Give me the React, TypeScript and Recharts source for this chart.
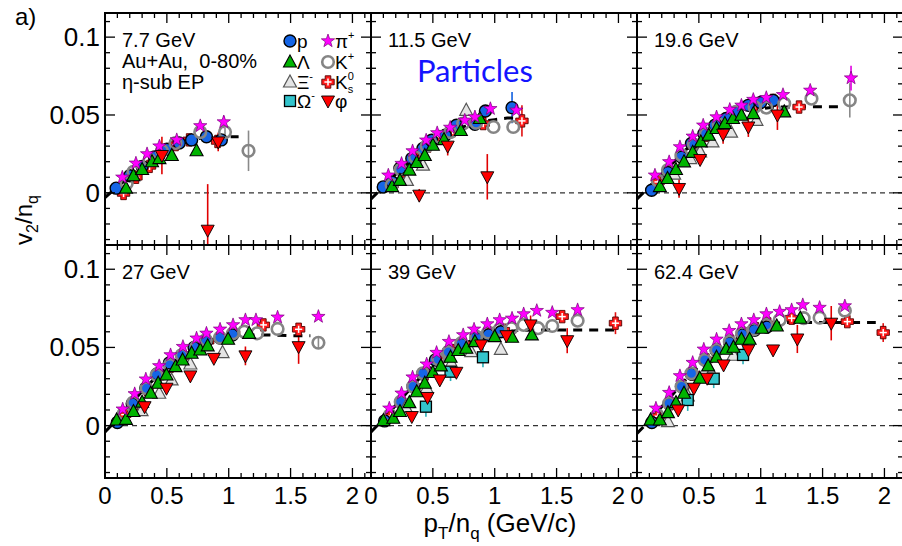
import React from 'react';
import {
  ScatterChart,
  Scatter,
  XAxis,
  YAxis,
  ErrorBar,
  ReferenceLine,
  ReferenceArea,
} from 'recharts';

// [x, y, error] - error can be [down, up] where the bar is cut by the frame
type Pt = [number, number, (number | [number, number])?];

const FONT = '"Liberation Sans", Arial, Helvetica, sans-serif';

// axis ticks
const X_MAJOR = [0, 0.5, 1, 1.5, 2];
const Y_MAJOR = [0, 0.05, 0.1];
const X_TICKS = Array.from({ length: 22 }, (_, i) => i / 10);
const Y_TICKS = Array.from({ length: 15 }, (_, i) => (i - 3) / 100);
const X_DOMAIN: [number, number] = [0, 2.15];
const Y_DOMAIN: [number, number] = [-0.0335, 0.1155];

const PANEL_LABELS = ['7.7 GeV', '11.5 GeV', '19.6 GeV', '27 GeV', '39 GeV', '62.4 GeV'];

// ---- 7.7 GeV ----
const p_7: Pt[] = [[0.09, 0.003], [0.2, 0.011], [0.3, 0.017], [0.4, 0.023], [0.5, 0.028], [0.6, 0.032], [0.7, 0.034], [0.82, 0.036], [0.94, 0.034]];
const lam_7: Pt[] = [[0.17, 0.003], [0.23, 0.011], [0.3, 0.015], [0.38, 0.02], [0.44, 0.022], [0.54, 0.024], [0.74, 0.027]];
const xi_7: Pt[] = [];
const om_7: Pt[] = [];
const pi_7: Pt[] = [[0.14, 0.01], [0.25, 0.019], [0.34, 0.025], [0.44, 0.03], [0.58, 0.034], [0.77, 0.043], [0.96, 0.0455, 0.004]];
const kp_7: Pt[] = [[0.175, 0.006], [0.23, 0.0135], [0.36, 0.021], [0.46, 0.027], [0.57, 0.032], [0.77, 0.039], [0.97, 0.039, 0.003], [1.16, 0.027, 0.013]];
const ks_7: Pt[] = [[0.15, -0.0004], [0.25, 0.01], [0.36, 0.017], [0.46, 0.026], [0.57, 0.031], [0.68, 0.034], [0.91, 0.033, 0.003]];
const phi_7: Pt[] = [[0.46, 0.024, 0.012], [0.83, -0.024, [0.0095, 0.0296]], [0.915, 0.0327, 0.006]];
const fit_7: Pt[] = [[0, -0.003], [0.1, 0.004], [0.2, 0.0105], [0.3, 0.0165], [0.4, 0.022], [0.5, 0.027], [0.6, 0.031], [0.7, 0.034], [0.8, 0.0355], [0.9, 0.036], [1.0, 0.036], [1.08, 0.036]];

// ---- 11.5 GeV ----
const p_11: Pt[] = [[0.099, 0.0038], [0.17, 0.007], [0.234, 0.0158], [0.33, 0.022], [0.42, 0.0285], [0.49, 0.0338], [0.6, 0.037], [0.69, 0.0434], [0.84, 0.044], [0.925, 0.0526], [1.14, 0.0547, 0.01]];
const lam_11: Pt[] = [[0.17, 0.004], [0.234, 0.008], [0.31, 0.0146], [0.37, 0.0195], [0.435, 0.024], [0.5, 0.0306], [0.59, 0.0342], [0.726, 0.04], [0.88, 0.0477]];
const xi_11: Pt[] = [[0.29, 0.008], [0.42, 0.0178], [0.77, 0.053, 0.004]];
const om_11: Pt[] = [];
const pi_11: Pt[] = [[0.14, 0.0113], [0.247, 0.0188], [0.336, 0.0269], [0.446, 0.0338], [0.535, 0.0385], [0.64, 0.042], [0.758, 0.0466], [0.84, 0.0487], [0.965, 0.054], [1.175, 0.053]];
const kp_11: Pt[] = [[0.167, 0.005], [0.24, 0.015], [0.355, 0.023], [0.45, 0.03], [0.556, 0.036], [0.64, 0.039], [0.745, 0.0445], [0.85, 0.045], [0.99, 0.0423], [1.15, 0.0423]];
const ks_11: Pt[] = [[0.17, 0.005], [0.25, 0.014], [0.36, 0.022], [0.46, 0.03], [0.56, 0.036], [0.66, 0.04], [0.907, 0.0445], [1.22, 0.0462, 0.01]];
const phi_11: Pt[] = [[0.39, -0.0015, 0.004], [0.62, 0.03, 0.006], [0.94, 0.0103, 0.0146]];
const fit_11: Pt[] = [[0, -0.004], [0.1, 0.004], [0.2, 0.012], [0.3, 0.019], [0.4, 0.026], [0.5, 0.032], [0.6, 0.037], [0.7, 0.041], [0.8, 0.044], [0.9, 0.046], [1.0, 0.047], [1.1, 0.048], [1.15, 0.048]];

// ---- 19.6 GeV ----
const p_19: Pt[] = [[0.118, 0.0017], [0.25, 0.013], [0.36, 0.023], [0.44, 0.0317], [0.54, 0.038], [0.63, 0.0434], [0.72, 0.0477], [0.81, 0.052], [0.9, 0.0562], [1.0, 0.058], [1.1, 0.0594]];
const lam_19: Pt[] = [[0.185, 0.004], [0.247, 0.0092], [0.315, 0.015], [0.38, 0.0199], [0.45, 0.026], [0.516, 0.0327], [0.58, 0.037], [0.643, 0.0413], [0.71, 0.0445], [0.776, 0.0477], [0.844, 0.0498], [0.94, 0.0509], [1.19, 0.052]];
const xi_19: Pt[] = [[0.3, 0.012], [0.43, 0.022], [0.51, 0.0263], [0.61, 0.0327], [0.76, 0.039], [0.965, 0.0466]];
const om_19: Pt[] = [];
const pi_19: Pt[] = [[0.145, 0.0113], [0.26, 0.0199], [0.347, 0.0295], [0.45, 0.0363], [0.535, 0.0434], [0.643, 0.0487], [0.75, 0.0535], [0.844, 0.0562], [0.94, 0.0599], [1.045, 0.0611], [1.18, 0.063], [1.4, 0.0658], [1.73, 0.0737, 0.008]];
const kp_19: Pt[] = [[0.167, 0.008], [0.25, 0.0146], [0.36, 0.0242], [0.46, 0.031], [0.556, 0.038], [0.66, 0.044], [0.8, 0.052], [0.95, 0.0551], [1.045, 0.0547], [1.19, 0.0573], [1.41, 0.0605], [1.72, 0.0594, 0.011]];
const ks_19: Pt[] = [[0.17, 0.007], [0.26, 0.014], [0.36, 0.023], [0.46, 0.03], [0.56, 0.037], [0.66, 0.043], [0.8, 0.051], [0.95, 0.056], [1.1, 0.0594], [1.31, 0.0551]];
const phi_19: Pt[] = [[0.34, 0.0028, 0.006], [0.51, 0.0214], [0.696, 0.0376, 0.006], [0.9, 0.0423, 0.0064], [1.135, 0.05, 0.0096]];
const fit_19: Pt[] = [[0, -0.004], [0.1, 0.004], [0.2, 0.012], [0.3, 0.02], [0.4, 0.028], [0.5, 0.034], [0.6, 0.04], [0.7, 0.045], [0.8, 0.049], [0.9, 0.052], [1.0, 0.054], [1.1, 0.055], [1.3, 0.0553], [1.5, 0.0553], [1.68, 0.0553]];

// ---- 27 GeV ----
const p_27: Pt[] = [[0.1, 0.002], [0.22, 0.014], [0.33, 0.024], [0.42, 0.033], [0.52, 0.04], [0.62, 0.0452], [0.72, 0.05], [0.82, 0.054], [0.93, 0.056], [1.03, 0.058]];
const lam_27: Pt[] = [[0.094, 0.0036], [0.169, 0.004], [0.23, 0.009], [0.3, 0.015], [0.37, 0.0207], [0.43, 0.0271], [0.497, 0.0324], [0.57, 0.0377], [0.627, 0.042], [0.7, 0.0463], [0.77, 0.0484], [0.83, 0.051], [0.995, 0.0552], [1.165, 0.059]];
const xi_27: Pt[] = [[0.295, 0.0096], [0.438, 0.0207], [0.538, 0.0292], [0.69, 0.0394], [0.95, 0.0467]];
const om_27: Pt[] = [];
const pi_27: Pt[] = [[0.143, 0.0105], [0.24, 0.0203], [0.33, 0.0297], [0.438, 0.0382], [0.53, 0.0452], [0.63, 0.0505], [0.74, 0.0559], [0.82, 0.059], [0.93, 0.0616], [1.035, 0.0644], [1.135, 0.0676], [1.22, 0.0676], [1.395, 0.0693], [1.725, 0.0697]];
const kp_27: Pt[] = [[0.153, 0.0079], [0.228, 0.0147], [0.336, 0.0239], [0.417, 0.0324], [0.524, 0.0388], [0.62, 0.045], [0.74, 0.0505], [0.815, 0.0548], [0.93, 0.0563], [1.035, 0.059], [1.125, 0.0601], [1.23, 0.059], [1.395, 0.0618], [1.725, 0.053, 0.004]];
const ks_27: Pt[] = [[0.16, 0.007], [0.24, 0.014], [0.34, 0.023], [0.43, 0.031], [0.53, 0.038], [0.63, 0.044], [0.74, 0.05], [0.83, 0.054], [1.04, 0.059], [1.28, 0.0644], [1.565, 0.0616]];
const phi_27: Pt[] = [[0.32, 0.0121], [0.497, 0.0239], [0.69, 0.0318], [0.88, 0.043], [1.135, 0.0446, 0.006], [1.565, 0.0505, 0.011]];
const fit_27: Pt[] = [[0, -0.004], [0.1, 0.004], [0.2, 0.013], [0.3, 0.022], [0.4, 0.03], [0.5, 0.037], [0.6, 0.043], [0.7, 0.048], [0.8, 0.052], [0.9, 0.055], [1.0, 0.057], [1.1, 0.058], [1.3, 0.058], [1.5, 0.0575], [1.66, 0.0575]];

// ---- 39 GeV ----
const p_39: Pt[] = [[0.11, 0.003], [0.24, 0.015], [0.34, 0.025], [0.42, 0.033], [0.52, 0.042], [0.625, 0.0473], [0.73, 0.052], [0.85, 0.056], [0.95, 0.058], [1.05, 0.06]];
const lam_39: Pt[] = [[0.1, 0.0032], [0.18, 0.0047], [0.234, 0.009], [0.31, 0.0147], [0.37, 0.0217], [0.435, 0.0271], [0.5, 0.034], [0.565, 0.0382], [0.643, 0.0437], [0.705, 0.048], [0.77, 0.0495], [0.84, 0.0537], [1.0, 0.0569], [1.14, 0.0565], [1.3, 0.058]];
const xi_39: Pt[] = [[0.28, 0.012], [0.45, 0.024], [0.65, 0.04], [0.81, 0.0473], [1.05, 0.0488]];
const om_39: Pt[] = [[0.444, 0.0121, 0.0064], [0.643, 0.0345, 0.006], [0.905, 0.0437, 0.0064]];
const pi_39: Pt[] = [[0.148, 0.0111], [0.247, 0.0207], [0.336, 0.031], [0.45, 0.0393], [0.53, 0.0467], [0.63, 0.0537], [0.745, 0.058], [0.833, 0.0616], [0.94, 0.065], [1.04, 0.0676], [1.14, 0.0686], [1.234, 0.0714], [1.34, 0.0735], [1.465, 0.0723], [1.67, 0.074]];
const kp_39: Pt[] = [[0.153, 0.0068], [0.24, 0.0153], [0.34, 0.025], [0.42, 0.0335], [0.543, 0.0424], [0.625, 0.047], [0.73, 0.0527], [0.85, 0.0569], [0.946, 0.0595], [1.04, 0.0616], [1.135, 0.0623], [1.234, 0.0644], [1.35, 0.0623], [1.465, 0.0637], [1.67, 0.0671]];
const ks_39: Pt[] = [[0.16, 0.006], [0.25, 0.015], [0.35, 0.025], [0.44, 0.033], [0.55, 0.042], [0.65, 0.048], [0.75, 0.052], [0.86, 0.056], [0.96, 0.059], [1.07, 0.061], [1.545, 0.0697], [1.976, 0.0655, 0.007]];
const phi_39: Pt[] = [[0.33, 0.0058], [0.457, 0.018], [0.556, 0.0292], [0.69, 0.0341], [0.89, 0.0516], [1.094, 0.0575], [1.29, 0.0644, 0.006], [1.586, 0.0543, 0.008]];
const fit_39: Pt[] = [[0, -0.004], [0.1, 0.004], [0.2, 0.013], [0.3, 0.022], [0.4, 0.031], [0.5, 0.038], [0.6, 0.045], [0.7, 0.05], [0.8, 0.054], [0.9, 0.057], [1.0, 0.059], [1.1, 0.06], [1.2, 0.061], [1.5, 0.0612], [1.8, 0.0612], [2.0, 0.0612]];

// ---- 62.4 GeV ----
const p_62: Pt[] = [[0.12, 0.002], [0.26, 0.014], [0.36, 0.025], [0.44, 0.033], [0.55, 0.042], [0.64, 0.048], [0.75, 0.053], [0.85, 0.058], [0.95, 0.061], [1.05, 0.063]];
const lam_62: Pt[] = [[0.11, 0.0036], [0.185, 0.0036], [0.25, 0.0083], [0.315, 0.0147], [0.38, 0.0207], [0.508, 0.0303], [0.575, 0.0382], [0.643, 0.0437], [0.72, 0.0488], [0.78, 0.0501], [0.844, 0.0552], [0.91, 0.0552], [1.01, 0.0623], [1.13, 0.0637], [1.32, 0.0687]];
const xi_62: Pt[] = [[0.25, 0.0026], [0.41, 0.019], [0.6, 0.034], [0.78, 0.045]];
const om_62: Pt[] = [[0.41, 0.0164, 0.007], [0.62, 0.03, 0.006], [0.857, 0.0452, 0.006]];
const pi_62: Pt[] = [[0.153, 0.0111], [0.26, 0.0211], [0.347, 0.0318], [0.45, 0.0403], [0.54, 0.0488], [0.643, 0.0552], [0.745, 0.0607], [0.844, 0.065], [0.944, 0.0676], [1.046, 0.0714], [1.153, 0.0729], [1.25, 0.074], [1.34, 0.0772], [1.476, 0.0755], [1.68, 0.0765]];
const kp_62: Pt[] = [[0.164, 0.0068], [0.26, 0.0143], [0.36, 0.025], [0.44, 0.0335], [0.548, 0.042], [0.643, 0.0484], [0.75, 0.0537], [0.85, 0.059], [0.944, 0.0616], [1.046, 0.0644], [1.153, 0.0676], [1.347, 0.0687], [1.476, 0.069], [1.68, 0.0735]];
const ks_62: Pt[] = [[0.17, 0.006], [0.27, 0.014], [0.37, 0.025], [0.45, 0.033], [0.56, 0.042], [0.65, 0.048], [0.76, 0.054], [0.86, 0.059], [0.96, 0.062], [1.06, 0.065], [1.25, 0.0687], [1.7, 0.0665], [1.99, 0.0595, 0.006]];
const phi_62: Pt[] = [[0.333, 0.01], [0.46, 0.0239], [0.567, 0.0303], [0.7, 0.0388], [0.9, 0.0484], [1.1, 0.0484], [1.296, 0.0554, 0.009], [1.57, 0.0655, 0.011]];
const fit_62: Pt[] = [[0, -0.005], [0.1, 0.003], [0.2, 0.012], [0.3, 0.021], [0.4, 0.03], [0.5, 0.038], [0.6, 0.045], [0.7, 0.051], [0.8, 0.056], [0.9, 0.06], [1.0, 0.063], [1.1, 0.065], [1.2, 0.066], [1.5, 0.066], [1.75, 0.066], [1.93, 0.066]];

const PANELS = [
  { fit: fit_7, sets: { p: p_7, kp: kp_7, ks: ks_7, xi: xi_7, om: om_7, lam: lam_7, pi: pi_7, phi: phi_7 } },
  { fit: fit_11, sets: { p: p_11, kp: kp_11, ks: ks_11, xi: xi_11, om: om_11, lam: lam_11, pi: pi_11, phi: phi_11 } },
  { fit: fit_19, sets: { p: p_19, kp: kp_19, ks: ks_19, xi: xi_19, om: om_19, lam: lam_19, pi: pi_19, phi: phi_19 } },
  { fit: fit_27, sets: { p: p_27, kp: kp_27, ks: ks_27, xi: xi_27, om: om_27, lam: lam_27, pi: pi_27, phi: phi_27 } },
  { fit: fit_39, sets: { p: p_39, kp: kp_39, ks: ks_39, xi: xi_39, om: om_39, lam: lam_39, pi: pi_39, phi: phi_39 } },
  { fit: fit_62, sets: { p: p_62, kp: kp_62, ks: ks_62, xi: xi_62, om: om_62, lam: lam_62, pi: pi_62, phi: phi_62 } },
];

// draw order and error bar colours
const SPECIES: { key: keyof (typeof PANELS)[0]['sets']; err: string }[] = [
  { key: 'ks', err: '#e01010' },
  { key: 'p', err: '#1060e0' },
  { key: 'kp', err: '#8a8a8a' },
  { key: 'xi', err: '#8a8a8a' },
  { key: 'om', err: '#2ab0b8' },
  { key: 'lam', err: '#00a000' },
  { key: 'pi', err: '#e000e0' },
  { key: 'phi', err: '#e00000' },
];

const toRows = (a: Pt[]) => a.map(([x, y, e]) => ({ x, y, e: e ?? 0 }));
const isMajor = (list: number[], v: number) => list.some((m) => Math.abs(m - v) < 1e-9);

const starPath = (cx: number, cy: number, ro: number, ri: number) => {
  let d = '';
  for (let i = 0; i < 10; i++) {
    const a = (-90 + i * 36) * (Math.PI / 180);
    const r = i % 2 ? ri : ro;
    d += `${i ? 'L' : 'M'}${cx + r * Math.cos(a)},${cy + r * Math.sin(a)}`;
  }
  return d + 'Z';
};

const Marker: React.FC<{ kind: string; cx: number; cy: number }> = ({ kind, cx, cy }) => {
  switch (kind) {
    case 'p':
      return <circle cx={cx} cy={cy} r={6} fill="#1565e6" stroke="#000" strokeWidth={1.4} />;
    case 'kp':
      // open circle, like ROOT's hollow marker
      return <circle cx={cx} cy={cy} r={5.8} fill="none" stroke="#858585" strokeWidth={2.6} />;
    case 'lam':
      return <polygon points={`${cx},${cy - 7} ${cx + 6.5},${cy + 5} ${cx - 6.5},${cy + 5}`} fill="#00b400" stroke="#000" strokeWidth={1.1} />;
    case 'xi':
      return <polygon points={`${cx},${cy - 7} ${cx + 6.5},${cy + 5} ${cx - 6.5},${cy + 5}`} fill="#e4e4e4" stroke="#555" strokeWidth={1.2} />;
    case 'om':
      return <rect x={cx - 5.5} y={cy - 5.5} width={11} height={11} fill="#33c4cc" stroke="#000" strokeWidth={1.3} />;
    case 'pi':
      return <path d={starPath(cx, cy, 7, 2.8)} fill="#ff00ff" stroke="#7a007a" strokeWidth={0.7} />;
    case 'ks': {
      const a = 2.8, l = 6.2;
      const pts = [[-a, -l], [a, -l], [a, -a], [l, -a], [l, a], [a, a], [a, l], [-a, l], [-a, a], [-l, a], [-l, -a], [-a, -a]]
        .map(([dx, dy]) => `${cx + dx},${cy + dy}`)
        .join(' ');
      return (
        <g>
          <polygon points={pts} fill="#ff1a1a" stroke="#500" strokeWidth={0.9} />
          <line x1={cx - 3.6} x2={cx + 3.6} y1={cy} y2={cy} stroke="#fff" strokeWidth={1.5} />
          <line x1={cx} x2={cx} y1={cy - 3.6} y2={cy + 3.6} stroke="#fff" strokeWidth={1.5} />
        </g>
      );
    }
    case 'phi':
      return <polygon points={`${cx - 6.5},${cy - 5} ${cx + 6.5},${cy - 5} ${cx},${cy + 7}`} fill="#ff0000" stroke="#000" strokeWidth={0.9} />;
    default:
      return <g />;
  }
};

const COL_X = [105, 371, 637];
const ROW_Y = [13, 245];
const ROW_H = [232, 233];
const PW = 266;
const YW = 60;
const MT = 10;
const MR = 12;
const XH = 44;

const Panel: React.FC<{ idx: number }> = ({ idx }) => {
  const col = idx % 3;
  const row = Math.floor(idx / 3);
  const h = ROW_H[row];
  const top = MT;
  const bottom = MT + h;
  const left = YW;
  const right = YW + PW;
  const panel = PANELS[idx];

  const xTick = (props: any) => {
    const x = props.x;
    const v = props.payload.value;
    const major = isMajor(X_MAJOR, v);
    const len = major ? 10 : 5;
    return (
      <g>
        <line x1={x} x2={x} y1={bottom} y2={bottom - len} stroke="#000" strokeWidth={1.3} />
        <line x1={x} x2={x} y1={top} y2={top + len} stroke="#000" strokeWidth={1.3} />
        {row === 1 && major && (
          <text x={x} y={bottom + 26} textAnchor="middle" fontSize={24} fontFamily={FONT} fill="#000">
            {String(v)}
          </text>
        )}
      </g>
    );
  };

  const yTick = (props: any) => {
    const y = props.y;
    const v = props.payload.value;
    const major = isMajor(Y_MAJOR, v);
    const len = major ? 10 : 5;
    return (
      <g>
        <line x1={left} x2={left + len} y1={y} y2={y} stroke="#000" strokeWidth={1.3} />
        <line x1={right - len} x2={right} y1={y} y2={y} stroke="#000" strokeWidth={1.3} />
        {col === 0 && major && (
          <text x={left - 5} y={y + 9} textAnchor="end" fontSize={26} fontFamily={FONT} fill="#000">
            {String(v)}
          </text>
        )}
      </g>
    );
  };

  return (
    <div style={{ position: 'absolute', left: COL_X[col] - YW, top: ROW_Y[row] - MT }}>
      <ScatterChart width={YW + PW + MR} height={MT + h + XH} margin={{ top: MT, right: MR, bottom: 0, left: 0 }}>
        <XAxis
          type="number"
          dataKey="x"
          domain={X_DOMAIN}
          ticks={X_TICKS}
          interval={0}
          tick={xTick}
          tickLine={false}
          axisLine={false}
          height={XH}
          allowDataOverflow
        />
        <YAxis
          type="number"
          dataKey="y"
          domain={Y_DOMAIN}
          ticks={Y_TICKS}
          interval={0}
          tick={yTick}
          tickLine={false}
          axisLine={false}
          width={YW}
          allowDataOverflow
        />
        <ReferenceLine y={0} stroke="#333" strokeWidth={1.2} strokeDasharray="5 4" />
        <Scatter
          data={toRows(panel.fit)}
          line={{ stroke: '#000', strokeWidth: 3, strokeDasharray: '9 7' }}
          shape={() => <g />}
          isAnimationActive={false}
        />
        {SPECIES.map((s) => (
          <Scatter
            key={s.key}
            data={toRows(panel.sets[s.key])}
            shape={(p: any) => <Marker kind={s.key} cx={p.cx} cy={p.cy} />}
            isAnimationActive={false}
          >
            <ErrorBar dataKey="e" direction="y" width={0} stroke={s.err} strokeWidth={1.6} />
          </Scatter>
        ))}
        <ReferenceArea
          x1={X_DOMAIN[0]}
          x2={X_DOMAIN[1]}
          y1={Y_DOMAIN[0]}
          y2={Y_DOMAIN[1]}
          fill="none"
          stroke="#000"
          strokeWidth={2}
        />
      </ScatterChart>
    </div>
  );
};

const LEGEND = [
  { kind: 'p', col: 0, row: 0 },
  { kind: 'lam', col: 0, row: 1 },
  { kind: 'xi', col: 0, row: 2 },
  { kind: 'om', col: 0, row: 3 },
  { kind: 'pi', col: 1, row: 0 },
  { kind: 'kp', col: 1, row: 1 },
  { kind: 'ks', col: 1, row: 2 },
  { kind: 'phi', col: 1, row: 3 },
];
const LEG_X = [290, 328];
const LEG_Y = [41, 62, 82, 101];

const legendLabel = (kind: string) => {
  switch (kind) {
    case 'p': return <>p</>;
    case 'lam': return <>Λ</>;
    case 'xi': return <>Ξ<tspan dy={-9} fontSize={11}>-</tspan></>;
    case 'om': return <>Ω<tspan dy={-9} fontSize={11}>-</tspan></>;
    case 'pi': return <>π<tspan dy={-9} fontSize={11}>+</tspan></>;
    case 'kp': return <>K<tspan dy={-9} fontSize={11}>+</tspan></>;
    case 'ks': return <>K<tspan dy={-9} fontSize={11}>0</tspan><tspan dx={-6} dy={13} fontSize={11}>s</tspan></>;
    case 'phi': return <>φ</>;
    default: return null;
  }
};

const App: React.FC = () => {
  return (
    <div style={{ position: 'absolute', left: 0, top: 0, width: 902, height: 546, background: '#fff', overflow: 'hidden' }}>
      {PANELS.map((_, i) => (
        <Panel key={i} idx={i} />
      ))}
      <svg width={902} height={546} style={{ position: 'absolute', left: 0, top: 0, pointerEvents: 'none' }} fontFamily={FONT}>
        <text x={15} y={25} fontSize={24}>a)</text>
        {PANEL_LABELS.map((lbl, i) => (
          <text key={lbl} x={COL_X[i % 3] + 17} y={ROW_Y[Math.floor(i / 3)] + 34} fontSize={20}>
            {lbl}
          </text>
        ))}
        <text x={122} y={68} fontSize={20} style={{ whiteSpace: 'pre' }}>Au+Au,  0-80%</text>
        <text x={122} y={89} fontSize={20}>η-sub EP</text>
        <text x={417} y={82} fontSize={31} fill="#1414ff" fontFamily='Lato, "Open Sans", sans-serif'>Particles</text>
        {LEGEND.map((l) => (
          <g key={l.kind}>
            <Marker kind={l.kind} cx={LEG_X[l.col]} cy={LEG_Y[l.row]} />
            <text x={LEG_X[l.col] + 7} y={LEG_Y[l.row] + 7} fontSize={19}>
              {legendLabel(l.kind)}
            </text>
          </g>
        ))}
        <text transform="translate(32,220) rotate(-90)" textAnchor="middle" fontSize={24}>
          v<tspan dy={6} fontSize={16}>2</tspan>
          <tspan dy={-6}>/n</tspan>
          <tspan dy={6} fontSize={16}>q</tspan>
        </text>
        <text x={500} y={532} textAnchor="middle" fontSize={26}>
          p<tspan dy={7} fontSize={17}>T</tspan>
          <tspan dy={-7}>/n</tspan>
          <tspan dy={7} fontSize={17}>q</tspan>
          <tspan dy={-7}> (GeV/c)</tspan>
        </text>
      </svg>
    </div>
  );
};

export default App;
